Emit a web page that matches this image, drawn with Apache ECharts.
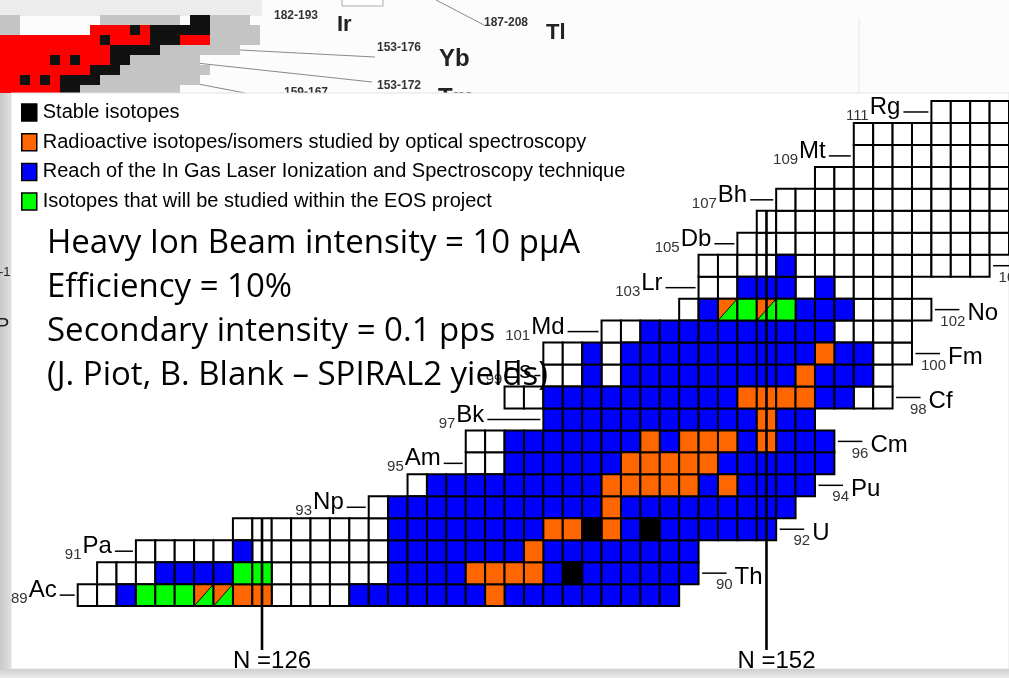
<!DOCTYPE html>
<html>
<head>
<meta charset="utf-8">
<script src="https://cdn.jsdelivr.net/npm/echarts@6/dist/echarts.min.js"></script>
<style>
  body { margin: 0; background: #fcfcfc; }
  #main { width: 1009px; height: 678px; }
</style>
</head>
<body>
<div id="main"></div>
<script>
// chart of nuclides, Z = 89 (Ac) .. 111 (Rg)
var elements = ['Ac','Th','Pa','U','Np','Pu','Am','Cm','Bk','Cf','Es','Fm','Md','No','Lr','Rf','Db','Sg','Bh','Hs','Mt','Ds','Rg'];
var firstZ = 89;
// lightest neutron number drawn in each row
var firstN = [117,118,120,125,132,134,137,137,141,139,141,141,144,148,149,149,151,152,153,155,157,157,161];
// one letter per cell from firstN on:
// w known, k stable, o optical spectroscopy, b IGLIS reach, g EOS, d optical + EOS
var cellCodes = [
  'wwbgggddoowwwwbbbbbbbobbbbbbbbb',   // Ac
  'wwwbbbbggwwwwwwbbbboooobkbbbbbb',   // Th
  'wwwwwbwwwwwwwbbbbbbbobbbbbbbb',     // Pa
  'wwwwwwwwbbbbbbbbookobkbbbbbb',      // U
  'wbbbbbbbbbbbobbbbbbbbb',            // Np
  'wbbbbbbbbbooooobobbbb',             // Pu
  'wwbbbbbbooooobbbbbb',               // Am
  'wwbbbbbbbobooobobbb',               // Cm
  'bbbbbbbbbbbobb',                    // Bk
  'wwbbbbbbbbbboooobbww',              // Cf
  'wwbwbbbbbbbbbobbbw',                // Es
  'wwbwbbbbbbbbbbobbww',               // Fm
  'wwbbbbbbbbbbwwww',                  // Md
  'wbdgdgbbbwwww',                     // No
  'wwbbbwbwwww',                       // Lr
  'wwwwbwwwwwwwwww',                   // Rf
  'wwwwwwwwwwwwww',                    // Db
  'wwwwwwwwwwwww',                     // Sg
  'wwwwwwwwwwww',                      // Bh
  'wwwwwwwwww',                        // Hs
  'wwwwwwww',                          // Mt
  'wwwwwwww',                          // Ds
  'wwww'                               // Rg
];
var magicN = [126, 152];
var magicTopZ = [92, 106];
var legendNames = [
  'Stable isotopes',
  'Radioactive isotopes/isomers studied by optical spectroscopy',
  'Reach of the In Gas Laser Ionization and Spectroscopy technique',
  'Isotopes that will be studied within the EOS project'
];
var infoLines = [
  'Heavy Ion Beam intensity = 10 p\u03bcA',
  'Efficiency = 10%',
  'Secondary intensity = 0.1 pps',
  '(J. Piot, B. Blank \u2013 SPIRAL2 yields)'
];
// the slide behind (top left corner): r red, k black, g grey
var backRows = [
  'gg........gggggggg.kkgggg..',
  'gg.......rrrrkrkkkkkkggggg.',
  'rrrrrrrrrrkrrrrkkkrrrggggg.',
  'rrrrrrrrrrrkkkkkgggggggg...',
  'rrrrrkrkrrrkkggggggg.......',
  'rrrrrrrrrkkkggggggggg......',
  'rrkrkrkkkkgggggggggg.......',
  'rrrrrrkkgggggggggg.........'
];

// layout only
var leftDash = [15, 18, 19, 19, 53, 6, 31, 30, 20, 23, 22, 25];
var colors = { w: '#ffffff', k: '#000000', o: '#ff6600', b: '#0000ff', g: '#00ff00' };
var symFont = '24px "Liberation Sans"';
var numFont = '15px "Liberation Sans"';

var ctx = document.createElement('canvas').getContext('2d');
function textWidth(t, font) { ctx.font = font; return ctx.measureText(t).width; }

var cells = { w: [], b: [], o: [], k: [], g: [] };
elements.forEach(function (el, i) {
  var code = cellCodes[i];
  for (var j = 0; j < code.length; j++) {
    var c = code.charAt(j);
    if (c === 'd') cells.g.push([firstN[i] + j, firstZ + i, 1]);
    else cells[c].push([firstN[i] + j, firstZ + i, 0]);
  }
});

var backData = [];
backRows.forEach(function (row, r) {
  for (var j = 0; j < row.length; j++) {
    if (row.charAt(j) !== '.') backData.push([j + 0.5, r + 0.5, row.charAt(j)]);
  }
});

function renderCell(params, api) {
  var c = api.coord([api.value(0), api.value(1)]);
  var s = api.size([1, 1]);
  var x = c[0] - s[0] / 2, y = c[1] - s[1] / 2, w = s[0], h = s[1];
  var fill = api.visual('color');
  if (api.value(2) === 1) {
    return {
      type: 'group',
      children: [
        { type: 'polygon', shape: { points: [[x, y], [x + w, y], [x, y + h]] }, style: { fill: colors.o } },
        { type: 'polygon', shape: { points: [[x + w, y], [x + w, y + h], [x, y + h]] }, style: { fill: fill } },
        { type: 'line', shape: { x1: x, y1: y + h, x2: x + w, y2: y }, style: { stroke: '#000', lineWidth: 1 } },
        { type: 'rect', shape: { x: x, y: y, width: w, height: h }, style: { fill: 'none', stroke: '#000', lineWidth: 2 } }
      ]
    };
  }
  return { type: 'rect', shape: { x: x, y: y, width: w, height: h }, style: { fill: fill, stroke: '#000', lineWidth: 2 } };
}

function renderLabel(params, api) {
  var i = api.value(0);
  var Z = firstZ + i;
  var sym = elements[i];
  var kids = [];
  if (Z % 2 === 1) {
    var p = api.coord([firstN[i] - 0.5, Z]);
    var x2 = p[0] - 3, x1 = x2 - leftDash[(Z - firstZ) / 2];
    kids.push({ type: 'line', shape: { x1: x1, y1: p[1], x2: x2, y2: p[1] }, style: { stroke: '#000', lineWidth: 1.5 } });
    var symRight = x1 - 3;
    var w = textWidth(sym, symFont);
    kids.push({ type: 'text', style: { text: sym, x: symRight, y: p[1] - 4.5, align: 'right', verticalAlign: 'middle', font: symFont, fill: '#000' } });
    kids.push({ type: 'text', style: { text: String(Z), x: symRight - w - 1, y: p[1] + 4, align: 'right', verticalAlign: 'middle', font: numFont, fill: '#333' } });
  } else {
    var q = api.coord([firstN[i] + cellCodes[i].length - 0.5, Z]);
    var d1 = q[0] + 3.5, d2 = q[0] + 28;
    kids.push({ type: 'line', shape: { x1: d1, y1: q[1], x2: d2, y2: q[1] }, style: { stroke: '#000', lineWidth: 1.5 } });
    kids.push({ type: 'text', style: { text: String(Z), x: d2 + 6, y: q[1] + 12, align: 'right', verticalAlign: 'middle', font: numFont, fill: '#333' } });
    kids.push({ type: 'text', style: { text: sym, x: d2 + 8, y: q[1] + 4, align: 'left', verticalAlign: 'middle', font: symFont, fill: '#000' } });
  }
  return { type: 'group', children: kids };
}

function renderMagic(params, api) {
  var top = api.coord([api.value(0), api.value(1) + 0.5]);
  var bot = api.coord([api.value(0), 86.5]);
  return {
    type: 'group',
    children: [
      { type: 'line', shape: { x1: top[0], y1: top[1], x2: bot[0], y2: bot[1] }, style: { stroke: '#000', lineWidth: 2.6 } },
      { type: 'text', style: { text: 'N =' + api.value(0), x: bot[0] - 29, y: bot[1] + 11, align: 'left', verticalAlign: 'middle', font: symFont, fill: '#000' } }
    ]
  };
}

function renderBack(params, api) {
  var c = api.coord([api.value(0), api.value(1)]);
  var s = api.size([1, 1]);
  var code = api.value(2);
  var fill = code === 'r' ? '#ff0000' : code === 'k' ? '#111111' : '#c4c4c4';
  return { type: 'rect', shape: { x: c[0] - s[0] / 2, y: c[1] - s[1] / 2, width: s[0], height: s[1] }, style: { fill: fill } };
}

var chart = echarts.init(document.getElementById('main'));

var cellSeries = function (name, key) {
  return {
    type: 'custom', name: name, data: cells[key], renderItem: renderCell, clip: false,
    xAxisIndex: 0, yAxisIndex: 0, itemStyle: { color: colors[key] }, silent: true, z: 2
  };
};

var infoGraphics = infoLines.map(function (t, i) {
  return { type: 'text', z: 10, style: { text: t, x: 47, y: 244 + i * 44, font: '33px "Open Sans"', fill: '#000', verticalAlign: 'middle' } };
});

var option = {
  animation: false,
  backgroundColor: '#fcfcfc',
  grid: [
    { left: 77.7, top: 101, width: 933.6, height: 505.1 },
    { left: 0, top: 15, width: 270, height: 80 }
  ],
  xAxis: [
    { type: 'value', gridIndex: 0, min: 116.5, max: 164.5, show: false },
    { type: 'value', gridIndex: 1, min: 0, max: 27, show: false }
  ],
  yAxis: [
    { type: 'value', gridIndex: 0, min: 88.5, max: 111.5, show: false },
    { type: 'value', gridIndex: 1, min: 0, max: 8, inverse: true, show: false }
  ],
  legend: {
    data: legendNames,
    orient: 'vertical',
    left: 16, top: 97.5,
    itemWidth: 15, itemHeight: 17, itemGap: 9.7,
    icon: 'rect',
    selectedMode: false,
    itemStyle: { borderColor: '#000', borderWidth: 1.5 },
    textStyle: { fontFamily: 'Liberation Sans', fontSize: 20, color: '#000', lineHeight: 17, padding: [0, 0, 0, 1] },
    z: 6
  },
  graphic: [
    { type: 'rect', z: 0, shape: { x: 0, y: 0, width: 262, height: 16 }, style: { fill: '#ececec' } },
    { type: 'rect', z: 0, shape: { x: 342, y: -8, width: 41, height: 14 }, style: { fill: '#fff', stroke: '#aaa' } },
    { type: 'line', z: 0, shape: { x1: 859, y1: 18, x2: 859, y2: 93 }, style: { stroke: '#e6e6e6' } },
    { type: 'line', z: 0, shape: { x1: 182, y1: 47, x2: 375, y2: 57 }, style: { stroke: '#888', lineWidth: 1 } },
    { type: 'line', z: 0, shape: { x1: 150, y1: 58, x2: 372, y2: 82 }, style: { stroke: '#888', lineWidth: 1 } },
    { type: 'line', z: 0, shape: { x1: 115, y1: 68, x2: 245, y2: 93 }, style: { stroke: '#888', lineWidth: 1 } },
    { type: 'line', z: 0, shape: { x1: 436, y1: 0, x2: 484, y2: 25 }, style: { stroke: '#888', lineWidth: 1 } },
    { type: 'text', z: 0, style: { text: '182-193', x: 274, y: 16, font: 'bold 12px "Liberation Sans"', fill: '#333', verticalAlign: 'middle' } },
    { type: 'text', z: 0, style: { text: 'Ir', x: 337, y: 25, font: 'bold 22px "Liberation Sans"', fill: '#222', verticalAlign: 'middle' } },
    { type: 'text', z: 0, style: { text: '187-208', x: 484, y: 23, font: 'bold 12px "Liberation Sans"', fill: '#333', verticalAlign: 'middle' } },
    { type: 'text', z: 0, style: { text: 'Tl', x: 546, y: 33, font: 'bold 22px "Liberation Sans"', fill: '#222', verticalAlign: 'middle' } },
    { type: 'text', z: 0, style: { text: '153-176', x: 377, y: 48, font: 'bold 12px "Liberation Sans"', fill: '#333', verticalAlign: 'middle' } },
    { type: 'text', z: 0, style: { text: 'Yb', x: 439, y: 59, font: 'bold 24px "Liberation Sans"', fill: '#222', verticalAlign: 'middle' } },
    { type: 'text', z: 0, style: { text: '153-172', x: 377, y: 86, font: 'bold 12px "Liberation Sans"', fill: '#333', verticalAlign: 'middle' } },
    { type: 'text', z: 0, style: { text: 'Tm', x: 438, y: 98, font: 'bold 24px "Liberation Sans"', fill: '#222', verticalAlign: 'middle' } },
    { type: 'text', z: 0, style: { text: '159-167', x: 284, y: 93, font: 'bold 12px "Liberation Sans"', fill: '#333', verticalAlign: 'middle' } },
    { type: 'rect', z: 1, shape: { x: 11, y: 93, width: 998, height: 576 }, style: { fill: '#ffffff', stroke: '#e2e2e2', lineWidth: 1 } },
    { type: 'rect', z: 1, shape: { x: 0, y: 93, width: 11, height: 585 },
      style: { fill: new echarts.graphic.LinearGradient(0, 0, 1, 0, [{ offset: 0, color: '#c8c8c8' }, { offset: 1, color: '#e0e0e0' }]) } },
    { type: 'rect', z: 1, shape: { x: 0, y: 669, width: 1009, height: 9 },
      style: { fill: new echarts.graphic.LinearGradient(0, 0, 0, 1, [{ offset: 0, color: '#cfcfcf' }, { offset: 1, color: '#ececec' }]) } },
    { type: 'text', z: 1, style: { text: '-1', x: -1, y: 272, font: '13px "Liberation Sans"', fill: '#222', verticalAlign: 'middle' } },
    { type: 'text', z: 1, style: { text: 'P', x: -4, y: 326, font: '20px "Liberation Sans"', fill: '#222', verticalAlign: 'middle' } }
  ].concat(infoGraphics),
  series: [
    {
      type: 'custom', name: 'back', data: backData, renderItem: renderBack, xAxisIndex: 1, yAxisIndex: 1,
      silent: true, z: 0, clip: false
    },
    cellSeries('Known isotopes', 'w'),
    cellSeries(legendNames[2], 'b'),
    cellSeries(legendNames[1], 'o'),
    cellSeries(legendNames[0], 'k'),
    cellSeries(legendNames[3], 'g'),
    {
      type: 'custom', name: 'labels', data: elements.map(function (e, i) { return [i]; }),
      renderItem: renderLabel, xAxisIndex: 0, yAxisIndex: 0, silent: true, clip: false, z: 3
    },
    {
      type: 'custom', name: 'magic', data: magicN.map(function (n, i) { return [n, magicTopZ[i]]; }),
      renderItem: renderMagic, xAxisIndex: 0, yAxisIndex: 0, silent: true, clip: false, z: 4
    }
  ]
};
chart.setOption(option);
</script>
</body>
</html>
